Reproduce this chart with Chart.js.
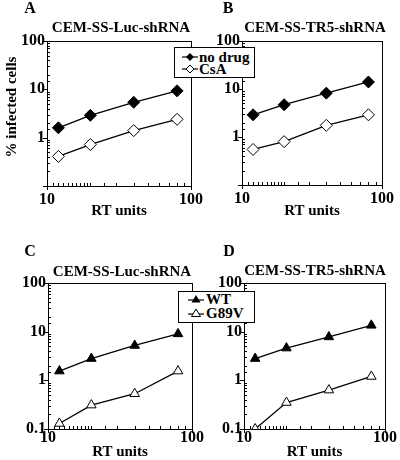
<!DOCTYPE html>
<html>
<head>
<meta charset="UTF-8">
<title>% infected cells vs RT units</title>
<script src="https://cdn.jsdelivr.net/npm/chart.js"></script>
<style>
  body { margin: 0; background: #fff; }
  #wrap { position: relative; width: 400px; height: 460px; overflow: hidden;
          font-family: "Liberation Serif", serif; font-weight: bold; color: #000; }
  canvas { position: absolute; }
  .legend { position: absolute; background: #fff; border: 1px solid #000; box-sizing: border-box; }
  .legend .row { position: absolute; left: 0; height: 14px; font-size: 15px; line-height: 14px; white-space: nowrap; }
  .legend svg { position: absolute; top: 1px; }
  .legend span { position: absolute; top: 0; }
</style>
</head>
<body>
<div id="wrap">
  <canvas id="chartA" width="215" height="230" style="left:0;top:0"></canvas>
  <canvas id="chartB" width="200" height="230" style="left:200px;top:0"></canvas>
  <canvas id="chartC" width="215" height="230" style="left:0;top:230px"></canvas>
  <canvas id="chartD" width="200" height="230" style="left:200px;top:230px"></canvas>

  <!-- leyendas entre los paneles -->
  <div class="legend" style="left:174px;top:47px;width:81px;height:31px">
    <div class="row" style="top:2px">
      <svg width="16" height="12" style="left:7px"><line x1="0" y1="6" x2="16" y2="6" stroke="#000" stroke-width="1.2"/><path d="M8 2 L12 6 L8 10 L4 6 Z" fill="#000"/></svg>
      <span style="left:24px">no drug</span>
    </div>
    <div class="row" style="top:14px">
      <svg width="16" height="12" style="left:7px"><line x1="0" y1="6" x2="16" y2="6" stroke="#000" stroke-width="1.2"/><path d="M8 2 L12 6 L8 10 L4 6 Z" fill="#fff" stroke="#000"/></svg>
      <span style="left:24px">CsA</span>
    </div>
  </div>
  <div class="legend" style="left:178px;top:291px;width:77px;height:32px">
    <div class="row" style="top:0px">
      <svg width="16" height="12" style="left:9px"><line x1="0" y1="7" x2="16" y2="7" stroke="#000" stroke-width="1.2"/><path d="M8 2 L12.5 9.5 L3.5 9.5 Z" fill="#000"/></svg>
      <span style="left:27px">WT</span>
    </div>
    <div class="row" style="top:14px">
      <svg width="16" height="12" style="left:9px"><line x1="0" y1="7" x2="16" y2="7" stroke="#000" stroke-width="1.2"/><path d="M8 2 L12.5 9.5 L3.5 9.5 Z" fill="#fff" stroke="#000"/></svg>
      <span style="left:27px">G89V</span>
    </div>
  </div>
</div>

<script>
// datos
var rtUnits = [12, 20, 40, 80];

var noDrugLuc = [1.6, 2.9, 5.4, 9.3];
var csaLuc = [0.41, 0.72, 1.4, 2.4];
var noDrugTR5 = [2.9, 4.7, 8.2, 14];
var csaTR5 = [0.55, 0.8, 1.75, 2.9];

var wtLuc = [1.55, 2.8, 5.2, 9];
var g89vLuc = [0.13, 0.31, 0.53, 1.55];
var wtTR5 = [2.8, 4.6, 7.8, 13.5];
var g89vTR5 = [0.1, 0.35, 0.63, 1.2];

var xTickLabels = [10, 100];
var yTickLabelsTop = [1, 10, 100];
var yTickLabelsBottom = [0.1, 1, 10, 100];

var FONT = '"Liberation Serif", "Times New Roman", serif';
Chart.defaults.font.family = FONT;
Chart.defaults.font.weight = 'bold';
Chart.defaults.color = '#000';

function isPow10(v) {
    var l = Math.log10(v);
    return Math.abs(l - Math.round(l)) < 1e-6;
}

function labelFrom(list) {
    return function (v) {
        for (var i = 0; i < list.length; i++) {
            if (Math.abs(v / list[i] - 1) < 1e-6) return String(list[i]);
        }
        return '';
    };
}

function points(vals) {
    return rtUnits.map(function (x, i) { return { x: x, y: vals[i] }; });
}

// marco, marcas de eje y textos del panel
var panelDeco = {
    id: 'panelDeco',
    beforeDatasetsDraw: function (chart) {
        var ctx = chart.ctx, a = chart.chartArea;
        var xs = chart.scales.x, ys = chart.scales.y;
        ctx.save();
        ctx.strokeStyle = '#000';
        ctx.lineWidth = 1;
        ctx.strokeRect(Math.round(a.left) + 0.5, Math.round(a.top) + 0.5,
            Math.round(a.right - a.left), Math.round(a.bottom - a.top));
        ctx.beginPath();
        ys.ticks.forEach(function (t) {
            var p = Math.round(ys.getPixelForValue(t.value)) + 0.5;
            if (isPow10(t.value)) { ctx.moveTo(a.left - 4, p); ctx.lineTo(a.left, p); }
            else { ctx.moveTo(a.left, p); ctx.lineTo(a.left + 3, p); }
        });
        xs.ticks.forEach(function (t) {
            var p = Math.round(xs.getPixelForValue(t.value)) + 0.5;
            if (isPow10(t.value)) { ctx.moveTo(p, a.bottom); ctx.lineTo(p, a.bottom + 4); }
            else { ctx.moveTo(p, a.bottom); ctx.lineTo(p, a.bottom - 3); }
        });
        ctx.stroke();
        ctx.restore();
    },
    afterDraw: function (chart) {
        var o = chart.options.plugins.panelDeco;
        var ctx = chart.ctx;
        ctx.save();
        ctx.fillStyle = '#000';
        ctx.textAlign = 'center';
        ctx.textBaseline = 'middle';
        ctx.font = 'bold 16px ' + FONT;
        ctx.fillText(o.letter, o.letterX, o.letterY);
        ctx.font = 'bold 15px ' + FONT;
        ctx.fillText(o.title, o.titleX, o.titleY);
        if (o.yTitle) {
            ctx.translate(o.yTitleX, o.yTitleY);
            ctx.rotate(-Math.PI / 2);
            ctx.fillText(o.yTitle, 0, 0);
        }
        ctx.restore();
    }
};

function makePanel(id, p) {
    var el = document.getElementById(id);
    var W = el.width, H = el.height;
    var sets = p.series.map(function (s) {
        return {
            label: s.label,
            data: points(s.values),
            showLine: true,
            borderColor: '#000',
            borderWidth: 1.3,
            pointStyle: p.marker,
            pointRadius: p.marker === 'triangle' ? 5.5 : 6,
            pointBorderWidth: 1,
            pointBorderColor: '#000',
            pointBackgroundColor: s.filled ? '#000' : '#fff'
        };
    });
    return new Chart(el.getContext('2d'), {
        type: 'scatter',
        data: { datasets: sets },
        options: {
            responsive: false,
            animation: false,
            layout: { padding: { left: 0, top: p.area.top, right: W - p.area.right, bottom: 0 } },
            plugins: {
                legend: { display: false },
                tooltip: { enabled: false },
                panelDeco: p.deco
            },
            scales: {
                x: {
                    type: 'logarithmic',
                    min: 10, max: 100,
                    grid: { display: false, drawTicks: false },
                    border: { display: false },
                    ticks: {
                        autoSkip: false, maxRotation: 0, padding: p.xPad,
                        font: { size: 16, weight: 'bold', lineHeight: 1 },
                        callback: labelFrom(xTickLabels)
                    },
                    title: {
                        display: true, text: 'RT units',
                        font: { size: 15, weight: 'bold', lineHeight: 1 },
                        padding: { top: 0, bottom: p.xTitlePad }
                    },
                    afterFit: function (s) { s.height = H - p.area.bottom; }
                },
                y: {
                    type: 'logarithmic',
                    min: 0.1, max: 100,
                    grid: { display: false, drawTicks: false },
                    border: { display: false },
                    ticks: {
                        autoSkip: false, padding: 2,
                        font: { size: 16, weight: 'bold', lineHeight: 1 },
                        callback: labelFrom(p.yLabels)
                    },
                    afterFit: function (s) { s.width = p.area.left; }
                }
            }
        },
        plugins: [panelDeco]
    });
}

makePanel('chartA', {
    area: { left: 47, right: 191, top: 41, bottom: 186 },
    marker: 'rectRot', yLabels: yTickLabelsTop, xPad: 6, xTitlePad: 11.5,
    series: [
        { label: 'no drug', values: noDrugLuc, filled: true },
        { label: 'CsA', values: csaLuc, filled: false }
    ],
    deco: { letter: 'A', letterX: 30, letterY: 9, title: 'CEM-SS-Luc-shRNA', titleX: 121, titleY: 28,
            yTitle: '% infected cells', yTitleX: 12, yTitleY: 107 }
});

makePanel('chartB', {
    area: { left: 42, right: 187, top: 41, bottom: 185 },
    marker: 'rectRot', yLabels: yTickLabelsTop, xPad: 6, xTitlePad: 11.5,
    series: [
        { label: 'no drug', values: noDrugTR5, filled: true },
        { label: 'CsA', values: csaTR5, filled: false }
    ],
    deco: { letter: 'B', letterX: 28, letterY: 9, title: 'CEM-SS-TR5-shRNA', titleX: 115, titleY: 28 }
});

makePanel('chartC', {
    area: { left: 48, right: 192, top: 53, bottom: 199 },
    marker: 'triangle', yLabels: yTickLabelsBottom, xPad: 0.5, xTitlePad: 0.5,
    series: [
        { label: 'WT', values: wtLuc, filled: true },
        { label: 'G89V', values: g89vLuc, filled: false }
    ],
    deco: { letter: 'C', letterX: 30, letterY: 22, title: 'CEM-SS-Luc-shRNA', titleX: 122, titleY: 42 }
});

makePanel('chartD', {
    area: { left: 44, right: 185, top: 53, bottom: 199 },
    marker: 'triangle', yLabels: yTickLabelsBottom, xPad: 0.5, xTitlePad: 0.5,
    series: [
        { label: 'WT', values: wtTR5, filled: true },
        { label: 'G89V', values: g89vTR5, filled: false }
    ],
    deco: { letter: 'D', letterX: 29, letterY: 22, title: 'CEM-SS-TR5-shRNA', titleX: 115, titleY: 41 }
});
</script>
</body>
</html>
